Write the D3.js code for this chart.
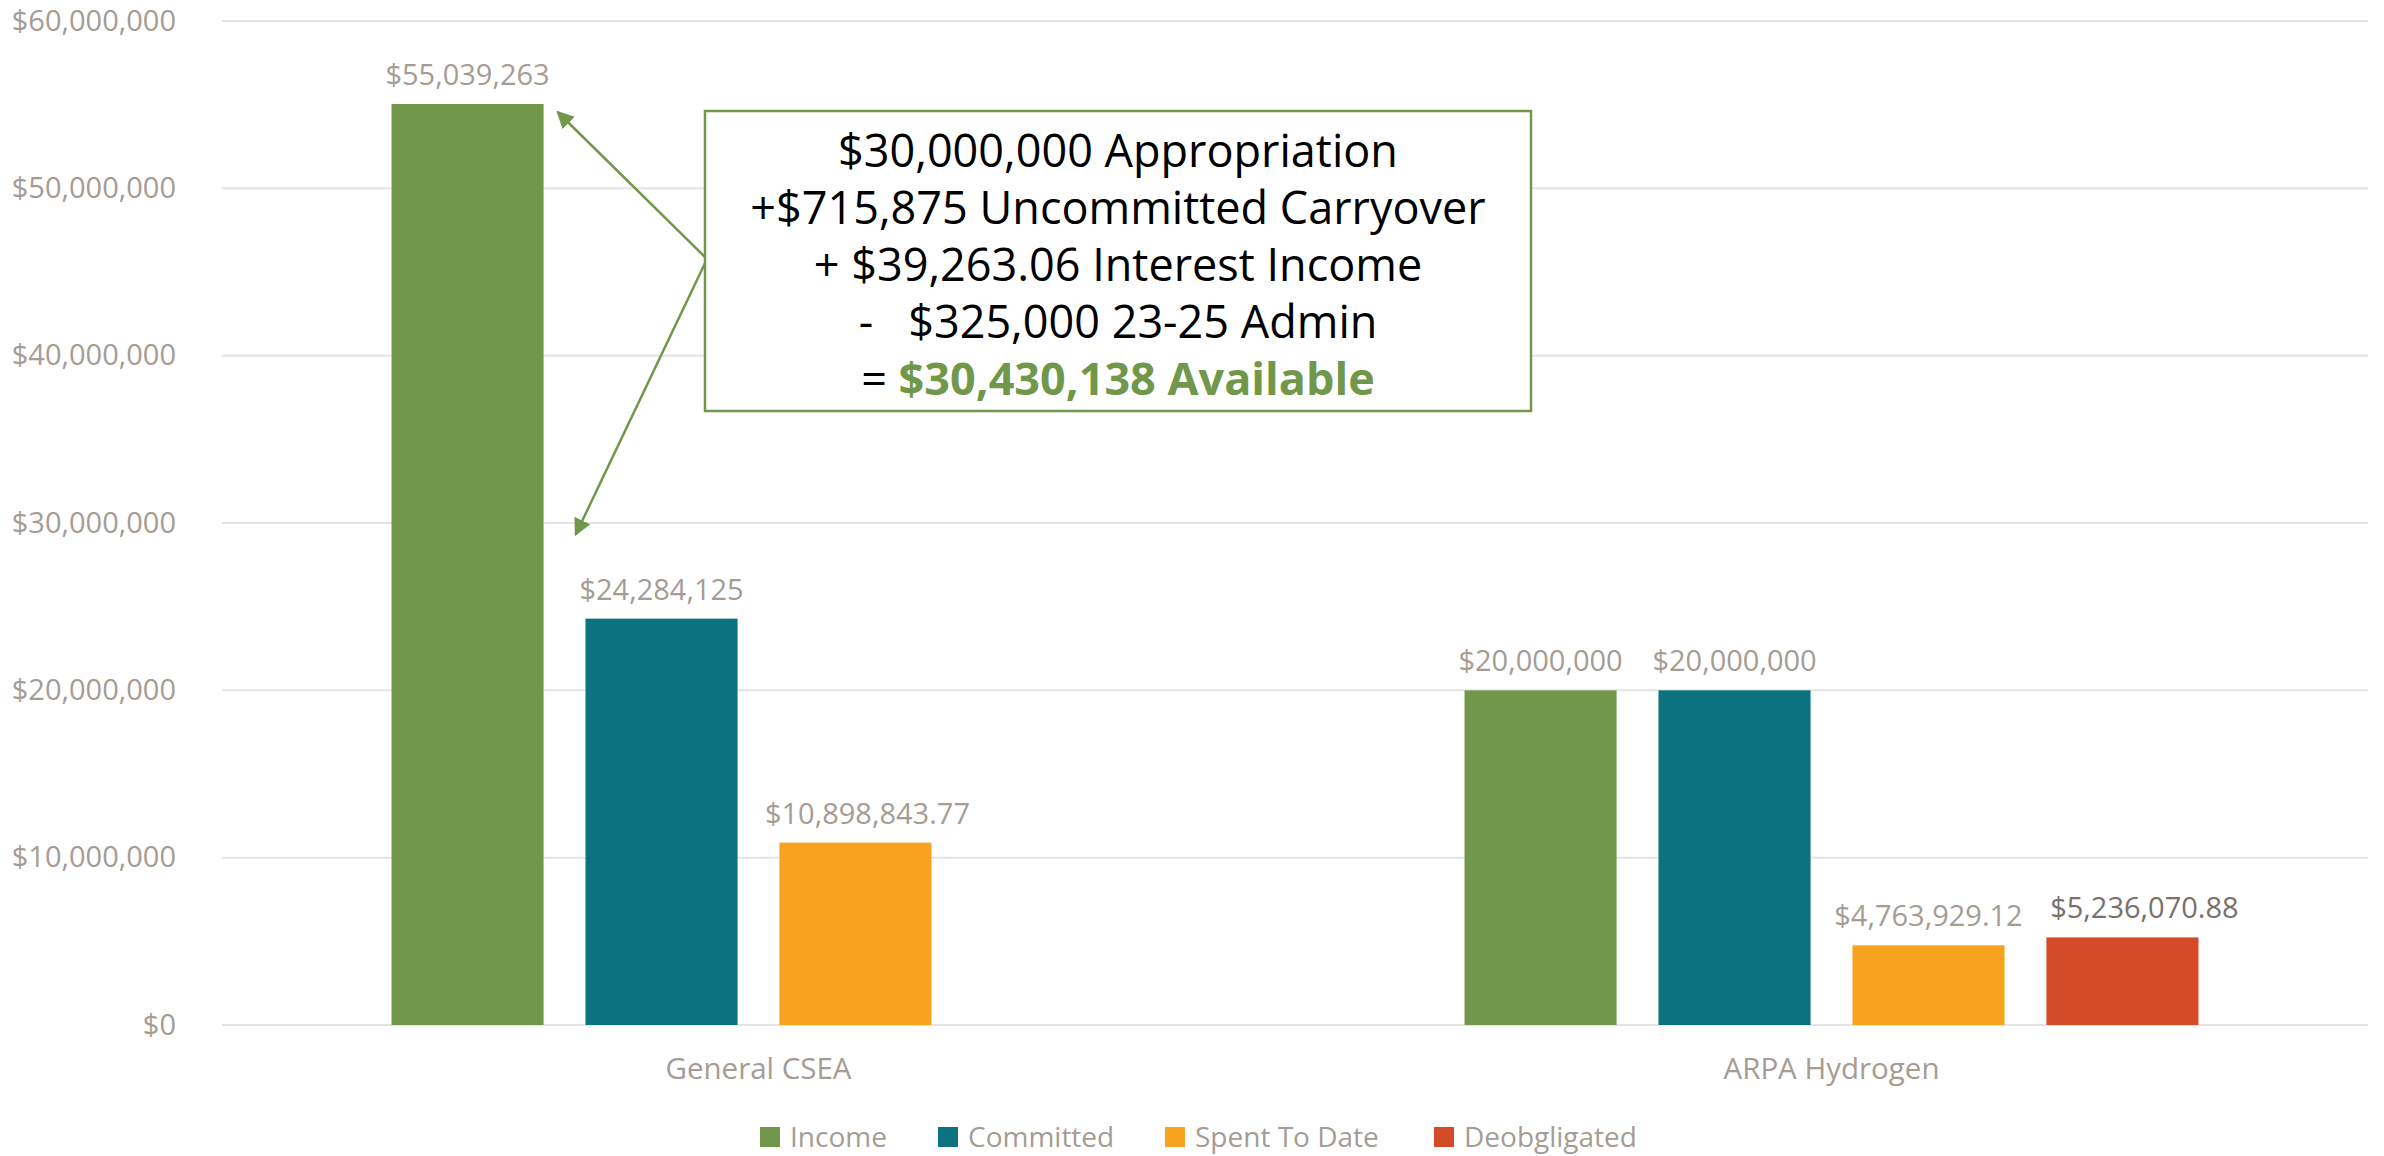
<!DOCTYPE html>
<html>
<head>
<meta charset="utf-8">
<script src="https://cdn.jsdelivr.net/npm/d3@7"></script>
<style>
  body { margin: 0; background: #fff; }
  text { font-family: "Open Sans", "Noto Sans", sans-serif; }
</style>
</head>
<body>
<div id="chart-area"></div>
<script>
// Data
var categories = ["General CSEA", "ARPA Hydrogen"];
var seriesNames = ["Income", "Committed", "Spent To Date", "Deobgligated"];
var seriesColors = ["#71984A", "#0A737F", "#F9A21F", "#D34B27"];
var income = [55039263, 20000000];
var committed = [24284125, 20000000];
var spentToDate = [10898843.77, 4763929.12];
var deobligated = [null, 5236070.88];
var valueLabels = [
  ["$55,039,263", "$24,284,125", "$10,898,843.77", null],
  ["$20,000,000", "$20,000,000", "$4,763,929.12", "$5,236,070.88"]
];
var yTicks = [0, 10000000, 20000000, 30000000, 40000000, 50000000, 60000000];
var noteLines = [
  "$30,000,000 Appropriation",
  "+$715,875 Uncommitted Carryover",
  "+ $39,263.06 Interest Income",
  "-   $325,000 23-25 Admin"
];
var noteTotal = "$30,430,138 Available";
var noteTarget = 29300000;

var W = 2384, H = 1156;
var margin = { left: 222, right: 16, top: 21, bottom: 131 };
var width = W - margin.left - margin.right;
var height = H - margin.top - margin.bottom;

var textGrey = "#A59C94";

var svg = d3.select("#chart-area")
  .append("svg")
  .attr("width", W)
  .attr("height", H);

var g = svg.append("g")
  .attr("transform", "translate(" + margin.left + "," + margin.top + ")");

// Scales
var x0 = d3.scaleBand()
  .domain(categories)
  .range([0, width])
  .padding(0);

var x1 = d3.scaleBand()
  .domain(d3.range(seriesNames.length))
  .range([0, x0.bandwidth()])
  .paddingInner(0.216)
  .paddingOuter(0.874);

var y = d3.scaleLinear()
  .domain([0, 60000000])
  .range([height, 0]);

// Gridlines
g.selectAll("line.grid")
  .data(yTicks)
  .enter()
  .append("line")
  .attr("class", "grid")
  .attr("x1", 0)
  .attr("x2", width)
  .attr("y1", function(d) { return y(d); })
  .attr("y2", function(d) { return y(d); })
  .attr("stroke", "#E4E4E4")
  .attr("stroke-width", 2);

// Y axis labels
var yAxis = d3.axisLeft(y)
  .tickValues(yTicks)
  .tickSize(0)
  .tickPadding(46)
  .tickFormat(function(d) { return "$" + d3.format(",")(d); });

g.append("g")
  .call(yAxis)
  .call(function(ax) {
    ax.select(".domain").remove();
    ax.selectAll("text")
      .attr("fill", textGrey)
      .style("font-size", "29px")
      .style("font-family", "'Open Sans', sans-serif");
  });

// Category labels
var xAxis = d3.axisBottom(x0).tickSize(0).tickPadding(33);
g.append("g")
  .attr("transform", "translate(0," + height + ")")
  .call(xAxis)
  .call(function(ax) {
    ax.select(".domain").remove();
    ax.selectAll("text")
      .attr("fill", textGrey)
      .style("font-size", "29.5px")
      .style("font-family", "'Open Sans', sans-serif");
  });

// Bars
var seriesValues = [income, committed, spentToDate, deobligated];
var barData = [];
categories.forEach(function(c, ci) {
  seriesValues.forEach(function(vals, si) {
    if (vals[ci] != null) {
      barData.push({ cat: c, ci: ci, si: si, value: vals[ci] });
    }
  });
});

g.selectAll("rect.bar")
  .data(barData)
  .enter()
  .append("rect")
  .attr("class", "bar")
  .attr("x", function(d) { return x0(d.cat) + x1(d.si); })
  .attr("y", function(d) { return y(d.value); })
  .attr("width", x1.bandwidth())
  .attr("height", function(d) { return height - y(d.value); })
  .attr("fill", function(d) { return seriesColors[d.si]; });

// Value labels (a couple were nudged sideways in the original)
var labelNudge = [[0, 0, 12, 0], [0, 0, 0, 22]];
g.selectAll("text.vlabel")
  .data(barData)
  .enter()
  .append("text")
  .attr("class", "vlabel")
  .attr("x", function(d) {
    return x0(d.cat) + x1(d.si) + x1.bandwidth() / 2 + labelNudge[d.ci][d.si];
  })
  .attr("y", function(d) { return y(d.value) - 19; })
  .attr("text-anchor", "middle")
  .attr("font-size", "29px")
  .attr("fill", function(d) { return d.si === 3 ? "#7A716A" : textGrey; })
  .text(function(d) { return valueLabels[d.ci][d.si]; });

// Annotation box
var box = { x: 705 - margin.left, y: 111 - margin.top, w: 826, h: 300 };
var green = "#71984A";

svg.append("defs").append("marker")
  .attr("id", "arrow")
  .attr("viewBox", "0 0 10 10")
  .attr("refX", 9)
  .attr("refY", 5)
  .attr("markerWidth", 7)
  .attr("markerHeight", 7)
  .attr("orient", "auto")
  .append("path")
  .attr("d", "M0,0 L10,5 L0,10 z")
  .attr("fill", green);

var incomeRight = x0(categories[0]) + x1(0) + x1.bandwidth();
var origin = [box.x + 2, box.y + 148];
var tips = [
  [incomeRight + 14, y(income[0]) + 8],
  [incomeRight + 32, y(noteTarget)]
];
g.selectAll("line.arrow")
  .data(tips)
  .enter()
  .append("line")
  .attr("class", "arrow")
  .attr("x1", origin[0])
  .attr("y1", origin[1])
  .attr("x2", function(d) { return d[0]; })
  .attr("y2", function(d) { return d[1]; })
  .attr("stroke", green)
  .attr("stroke-width", 2.5)
  .attr("marker-end", "url(#arrow)");

g.append("rect")
  .attr("x", box.x)
  .attr("y", box.y)
  .attr("width", box.w)
  .attr("height", box.h)
  .attr("fill", "#fff")
  .attr("stroke", green)
  .attr("stroke-width", 2.5);

var cx = box.x + box.w / 2;
noteLines.forEach(function(t, i) {
  g.append("text")
    .attr("x", cx)
    .attr("y", box.y + 56 + i * 57)
    .attr("text-anchor", "middle")
    .attr("font-size", "45px")
    .attr("fill", "#000")
    .style("white-space", "pre")
    .text(t);
});
var last = g.append("text")
  .attr("x", cx)
  .attr("y", box.y + 56 + 4 * 57)
  .attr("text-anchor", "middle")
  .attr("font-size", "45px")
  .attr("fill", "#000");
last.append("tspan").text("= ");
last.append("tspan")
  .attr("font-weight", "bold")
  .attr("fill", green)
  .text(noteTotal);

// Legend
var legendX = [760, 938, 1165, 1434];
var legend = svg.append("g").attr("transform", "translate(0,1137)");
seriesNames.forEach(function(name, i) {
  legend.append("rect")
    .attr("x", legendX[i])
    .attr("y", -10)
    .attr("width", 20)
    .attr("height", 20)
    .attr("fill", seriesColors[i]);
  legend.append("text")
    .attr("x", legendX[i] + 30)
    .attr("y", 0)
    .attr("dy", "0.35em")
    .attr("font-size", "28px")
    .attr("fill", textGrey)
    .text(name);
});
</script>
</body>
</html>
